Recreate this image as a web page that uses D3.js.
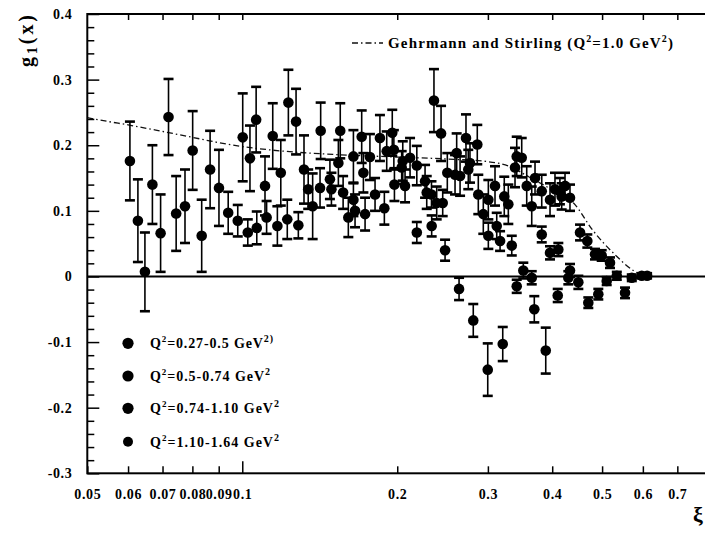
<!DOCTYPE html>
<html>
<head>
<meta charset="utf-8">
<script src="https://cdn.jsdelivr.net/npm/d3@7"></script>
<style>
  html, body { margin: 0; padding: 0; background: #fff; }
  svg { display: block; font-family: "Liberation Serif", "Times New Roman", serif; font-weight: bold; }
</style>
</head>
<body>
<svg id="chart" width="705" height="536"></svg>
<script>
// ---- Data: each entry is [xi, g1, total error] ----
const binLow = [            // Q^2 = 0.27-0.5 GeV^2
  [0.0605, 0.176, 0.060], [0.0627, 0.085, 0.063], [0.0647, 0.007, 0.060],
  [0.0669, 0.140, 0.060], [0.0694, 0.066, 0.059], [0.0719, 0.243, 0.058],
  [0.0744, 0.096, 0.057], [0.0774, 0.107, 0.056], [0.0801, 0.192, 0.060],
  [0.0834, 0.062, 0.055], [0.0866, 0.163, 0.059], [0.0901, 0.135, 0.058],
  [0.1002, 0.212, 0.067], [0.1035, 0.180, 0.050], [0.1064, 0.239, 0.050],
  [0.1107, 0.138, 0.045], [0.1146, 0.214, 0.050], [0.1188, 0.158, 0.050],
  [0.1229, 0.265, 0.050], [0.1272, 0.236, 0.050], [0.1318, 0.163, 0.052],
  [0.1370, 0.107, 0.050], [0.1420, 0.222, 0.043], [0.1550, 0.222, 0.042],
  [0.1537, 0.173, 0.035], [0.1644, 0.183, 0.040]
];
const binMidLow = [         // Q^2 = 0.5-0.74 GeV^2
  [0.0939, 0.097, 0.032], [0.0980, 0.085, 0.024], [0.1025, 0.067, 0.020],
  [0.1067, 0.074, 0.025], [0.1115, 0.090, 0.025], [0.1170, 0.077, 0.030],
  [0.1223, 0.087, 0.030], [0.1285, 0.078, 0.020], [0.1343, 0.133, 0.030],
  [0.1416, 0.135, 0.030], [0.1480, 0.148, 0.030], [0.1490, 0.133, 0.025],
  [0.1570, 0.128, 0.025], [0.1607, 0.090, 0.030], [0.1656, 0.100, 0.025],
  [0.1644, 0.117, 0.025], [0.1719, 0.158, 0.030], [0.1732, 0.095, 0.025],
  [0.1811, 0.125, 0.025], [0.1888, 0.104, 0.025], [0.1975, 0.140, 0.025],
  [0.2071, 0.138, 0.025], [0.2040, 0.166, 0.025], [0.2265, 0.145, 0.025],
  [0.2282, 0.128, 0.025], [0.2331, 0.125, 0.020], [0.2386, 0.112, 0.025],
  [0.2451, 0.112, 0.020]
];
const binMidHigh = [        // Q^2 = 0.74-1.10 GeV^2
  [0.1706, 0.213, 0.040], [0.1770, 0.182, 0.035], [0.1851, 0.211, 0.035],
  [0.1908, 0.191, 0.030], [0.1956, 0.219, 0.035], [0.1970, 0.193, 0.030],
  [0.2050, 0.176, 0.030], [0.2118, 0.181, 0.030], [0.2183, 0.169, 0.030],
  [0.2357, 0.268, 0.048], [0.2433, 0.218, 0.042], [0.2502, 0.158, 0.030],
  [0.2590, 0.155, 0.030], [0.2609, 0.188, 0.030], [0.2649, 0.153, 0.030],
  [0.2720, 0.211, 0.036], [0.2861, 0.201, 0.030], [0.2769, 0.173, 0.030],
  [0.2748, 0.163, 0.030], [0.2874, 0.125, 0.030], [0.3006, 0.117, 0.030],
  [0.3097, 0.138, 0.030], [0.3228, 0.122, 0.030], [0.3287, 0.110, 0.030],
  [0.3413, 0.183, 0.030], [0.3490, 0.181, 0.030], [0.3387, 0.166, 0.030],
  [0.3569, 0.138, 0.030], [0.3704, 0.150, 0.025], [0.3817, 0.130, 0.025],
  [0.3961, 0.117, 0.025], [0.4050, 0.133, 0.025], [0.4173, 0.122, 0.020],
  [0.4236, 0.138, 0.020], [0.4331, 0.120, 0.020], [0.3650, 0.107, 0.030],
  [0.4140, 0.130, 0.020]
];
const binHigh = [           // Q^2 = 1.10-1.64 GeV^2
  [0.2183, 0.067, 0.016], [0.2333, 0.077, 0.016], [0.2477, 0.040, 0.016],
  [0.2637, -0.019, 0.017], [0.2810, -0.067, 0.025], [0.2998, -0.142, 0.040],
  [0.3206, -0.103, 0.026], [0.2939, 0.095, 0.030], [0.3006, 0.062, 0.020],
  [0.3121, 0.077, 0.020], [0.3168, 0.054, 0.015], [0.3338, 0.047, 0.015],
  [0.3515, 0.009, 0.012], [0.3650, -0.002, 0.010], [0.3413, -0.015, 0.010],
  [0.3692, -0.050, 0.020], [0.3817, 0.064, 0.012], [0.3886, -0.113, 0.035],
  [0.3961, 0.036, 0.010], [0.4111, 0.041, 0.010], [0.4100, -0.029, 0.010],
  [0.4331, 0.009, 0.010], [0.4299, -0.002, 0.010], [0.4496, -0.009, 0.010],
  [0.4530, 0.067, 0.012], [0.4680, 0.054, 0.010], [0.4701, -0.040, 0.008],
  [0.4844, 0.034, 0.008], [0.4916, -0.027, 0.008], [0.4991, 0.032, 0.008],
  [0.5104, -0.007, 0.006], [0.5180, 0.021, 0.008], [0.5340, 0.001, 0.006],
  [0.5540, -0.025, 0.008], [0.5710, -0.002, 0.005], [0.5970, 0.001, 0.004],
  [0.6115, 0.001, 0.004]
];

// Gehrmann-Stirling prediction at Q^2 = 1.0 GeV^2
const gsXi = [0.05, 0.055, 0.06, 0.07, 0.08, 0.09, 0.1, 0.12, 0.15, 0.2, 0.25, 0.3, 0.33, 0.36, 0.4, 0.44, 0.48, 0.53, 0.575, 0.61];
const gsG1 = [0.242, 0.236, 0.231, 0.221, 0.212, 0.204, 0.198, 0.191, 0.186, 0.182, 0.179, 0.175, 0.168, 0.152, 0.132, 0.112, 0.070, 0.033, 0.009, 0.0];

const xTickValues = [0.05, 0.06, 0.07, 0.08, 0.09, 0.1, 0.2, 0.3, 0.4, 0.5, 0.6, 0.7];
const xTickLabels = ["0.05", "0.06", "0.07", "0.08", "0.09", "0.1", "0.2", "0.3", "0.4", "0.5", "0.6", "0.7"];
const yTickValues = [-0.3, -0.2, -0.1, 0, 0.1, 0.2, 0.3, 0.4];
const yTickLabels = ["-0.3", "-0.2", "-0.1", "0", "0.1", "0.2", "0.3", "0.4"];
const yMinorValues = d3.range(-0.28, 0.4, 0.02).map(v => +v.toFixed(2));

const binLabels = [
  { q: "0.27-0.5", sup: "2)" },
  { q: "0.5-0.74", sup: "2" },
  { q: "0.74-1.10", sup: "2" },
  { q: "1.10-1.64", sup: "2" }
];

// ---- Layout ----
const svg = d3.select("#chart");
const plot = { left: 87.3, right: 712, top: 14, bottom: 473.3 };

const x = d3.scaleLog().domain([0.05, 0.5]).range([plot.left, 602.1]);
const y = d3.scaleLinear().domain([-0.3, 0.4]).range([plot.bottom, plot.top]);

// theory curve
const gsLine = d3.line().x(d => x(d[0])).y(d => y(d[1])).curve(d3.curveMonotoneX);
svg.append("path")
  .datum(gsXi.map((v, i) => [v, gsG1[i]]))
  .attr("d", gsLine)
  .attr("fill", "none")
  .attr("stroke", "#111")
  .attr("stroke-width", 1.3)
  .attr("stroke-dasharray", "6,3,1.5,3");

// zero line
svg.append("line")
  .attr("x1", plot.left).attr("x2", plot.right)
  .attr("y1", y(0)).attr("y2", y(0))
  .attr("stroke", "#000").attr("stroke-width", 2);

// data with error bars
const allBins = [binLow, binMidLow, binMidHigh, binHigh];
const capHalf = 5;
allBins.forEach(bin => {
  const g = svg.append("g");
  const eb = g.selectAll("g.eb").data(bin).join("g").attr("class", "eb");
  eb.append("line")
    .attr("x1", d => x(d[0])).attr("x2", d => x(d[0]))
    .attr("y1", d => y(d[1] + d[2])).attr("y2", d => y(d[1] - d[2]))
    .attr("stroke", "#000").attr("stroke-width", 1.6);
  [1, -1].forEach(s => {
    eb.append("line")
      .attr("x1", d => x(d[0]) - capHalf).attr("x2", d => x(d[0]) + capHalf)
      .attr("y1", d => y(d[1] + s * d[2])).attr("y2", d => y(d[1] + s * d[2]))
      .attr("stroke", "#000").attr("stroke-width", 2.6);
  });
  g.selectAll("circle").data(bin).join("circle")
    .attr("cx", d => x(d[0])).attr("cy", d => y(d[1]))
    .attr("r", 5.3).attr("fill", "#000");
});

// axes
const fontSize = 14;
const xAxisBottom = d3.axisBottom(x).tickValues(xTickValues)
  .tickFormat((d, i) => xTickLabels[i]).tickSize(-7).tickPadding(16);
const gxb = svg.append("g").attr("transform", `translate(0,${plot.bottom})`).call(xAxisBottom);
gxb.selectAll(".tick").filter(d => d === 0.1).select("line").attr("y2", -12);

const xAxisTop = d3.axisTop(x).tickValues(xTickValues.slice(1)).tickFormat("").tickSize(-6);
svg.append("g").attr("transform", `translate(0,${plot.top})`).call(xAxisTop);

const yAxis = d3.axisLeft(y).tickValues(yTickValues)
  .tickFormat((d, i) => yTickLabels[i]).tickSize(-12).tickPadding(15);
svg.append("g").attr("transform", `translate(${plot.left},0)`).call(yAxis);

const yMinor = d3.axisLeft(y).tickValues(yMinorValues.filter(v => Math.abs(v * 10 - Math.round(v * 10)) > 1e-6))
  .tickFormat("").tickSize(-7);
svg.append("g").attr("transform", `translate(${plot.left},0)`).call(yMinor);

svg.selectAll(".domain").remove();
svg.selectAll(".tick line").attr("stroke", "#000").attr("stroke-width", 1.5);
svg.selectAll(".tick text")
  .attr("fill", "#000")
  .style("font-family", "'Liberation Serif', serif")
  .style("font-weight", "bold")
  .style("font-size", fontSize + "px")
  .style("letter-spacing", "0.6px");

// frame
svg.append("rect")
  .attr("x", plot.left).attr("y", plot.top)
  .attr("width", plot.right - plot.left).attr("height", plot.bottom - plot.top)
  .attr("fill", "none").attr("stroke", "#000").attr("stroke-width", 2);

// axis titles
const yTitle = svg.append("text")
  .attr("transform", "translate(33,41) rotate(-90)")
  .attr("text-anchor", "middle")
  .style("font-size", "20px")
  .attr("textLength", 52).attr("lengthAdjust", "spacing");
yTitle.append("tspan").text("g");
yTitle.append("tspan").attr("dy", 4).style("font-size", "14px").text("1");
yTitle.append("tspan").attr("dy", -4).text("(x)");

svg.append("text")
  .attr("x", 693).attr("y", 522)
  .style("font-size", "22px")
  .style("font-weight", "bold")
  .text("ξ");

// legend: theory curve
svg.append("line")
  .attr("x1", 352).attr("x2", 383).attr("y1", 43).attr("y2", 43)
  .attr("stroke", "#111").attr("stroke-width", 1.3)
  .attr("stroke-dasharray", "6,3,1.5,3");
const gsLabel = svg.append("text")
  .attr("x", 388).attr("y", 48)
  .style("font-size", "15px")
  .attr("textLength", 285).attr("lengthAdjust", "spacing");
gsLabel.append("tspan").text("Gehrmann and Stirling (Q");
gsLabel.append("tspan").attr("dy", -6).style("font-size", "10px").text("2");
gsLabel.append("tspan").attr("dy", 6).text("=1.0 GeV");
gsLabel.append("tspan").attr("dy", -6).style("font-size", "10px").text("2");
gsLabel.append("tspan").attr("dy", 6).text(")");

// legend: Q^2 bins
const legendY = [343.3, 376, 408.3, 441.7];
const legendR = [5.6, 5.6, 5.6, 5];
const legendW = [123, 120, 129, 129];
binLabels.forEach((b, i) => {
  svg.append("circle").attr("cx", 128).attr("cy", legendY[i]).attr("r", legendR[i]).attr("fill", "#000");
  const t = svg.append("text")
    .attr("x", 150).attr("y", legendY[i] + 5)
    .style("font-size", "14px")
    .attr("textLength", legendW[i]).attr("lengthAdjust", "spacing");
  t.append("tspan").text("Q");
  t.append("tspan").attr("dy", -6).style("font-size", "9px").text("2");
  t.append("tspan").attr("dy", 6).text("=" + b.q + " GeV");
  t.append("tspan").attr("dy", -6).style("font-size", "10px").text(b.sup);
});
</script>
</body>
</html>
